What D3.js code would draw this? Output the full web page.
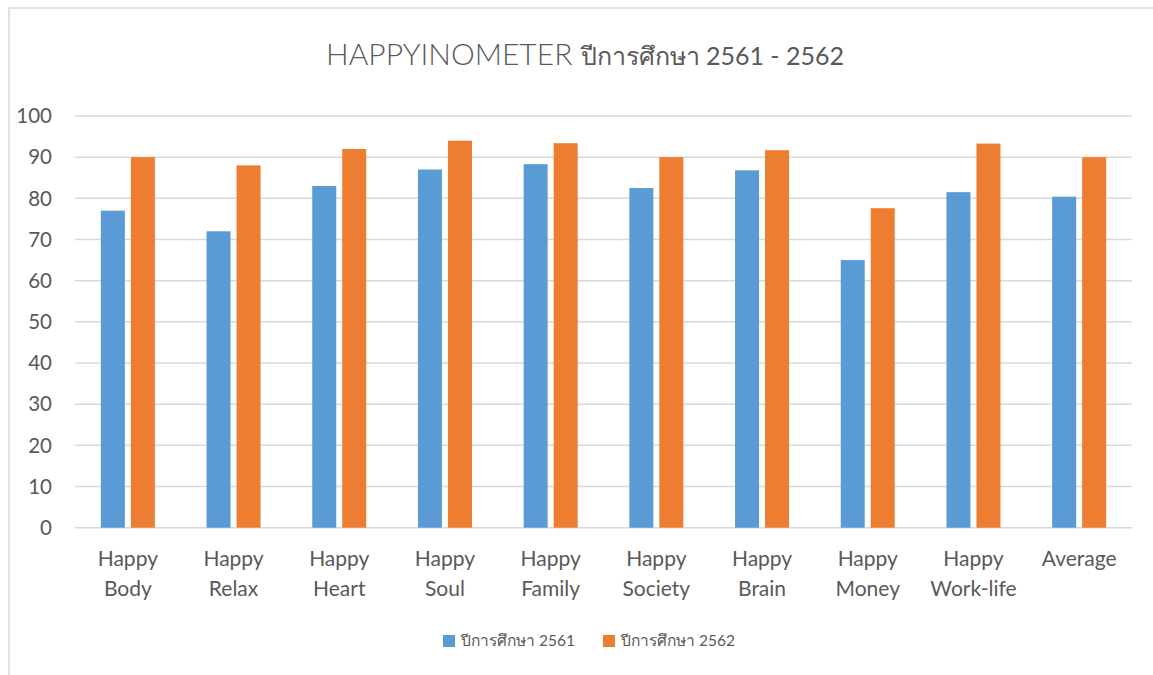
<!DOCTYPE html>
<html>
<head>
<meta charset="utf-8">
<script src="https://cdn.jsdelivr.net/npm/d3@7"></script>
<style>
  body { margin: 0; background: #fff; }
  text { font-family: Lato, "Open Sans", sans-serif; fill: #595959; }
</style>
</head>
<body>
<div id="chart"></div>
<script>
// Chart values
const categories = [
    ["Happy", "Body"], ["Happy", "Relax"], ["Happy", "Heart"], ["Happy", "Soul"],
    ["Happy", "Family"], ["Happy", "Society"], ["Happy", "Brain"], ["Happy", "Money"],
    ["Happy", "Work-life"], ["Average"]
];
const seriesNames = ["ปีการศึกษา 2561", "ปีการศึกษา 2562"];
const values2561 = [77, 72, 83, 87, 88.3, 82.5, 86.8, 65, 81.5, 80.4];
const values2562 = [90, 88, 92, 94, 93.4, 90, 91.7, 77.6, 93.3, 90];
const yTicks = [0, 10, 20, 30, 40, 50, 60, 70, 80, 90, 100];
const colors = ["#5B9BD5", "#ED7D31"];

const width = 1153, height = 675;
const margin = {top: 116, left: 75, right: 21, bottom: 148};

const svg = d3.select("#chart").append("svg")
    .attr("width", width)
    .attr("height", height);

// chart frame (only top and left edges are visible in the picture)
svg.append("rect")
    .attr("x", 9).attr("y", 8)
    .attr("width", width + 20).attr("height", height + 20)
    .attr("fill", "none")
    .attr("stroke", "#d9d9d9")
    .attr("stroke-width", 1.5);

const labels = categories.map(d => d.join(" "));

const x = d3.scaleBand()
    .domain(labels)
    .range([margin.left, width - margin.right]);

const yScale = d3.scaleLinear()
    .domain([0, 100])
    .range([height - margin.bottom + 0.7, margin.top]);

// gridlines
svg.append("g")
    .selectAll("line")
    .data(yTicks)
    .enter().append("line")
    .attr("x1", margin.left)
    .attr("x2", width - margin.right)
    .attr("y1", d => yScale(d))
    .attr("y2", d => yScale(d))
    .attr("stroke", "#d9d9d9")
    .attr("stroke-width", 1.5);

// y tick labels
svg.append("g")
    .selectAll("text")
    .data(yTicks)
    .enter().append("text")
    .attr("x", 52)
    .attr("y", d => yScale(d))
    .attr("dy", "0.35em")
    .attr("text-anchor", "end")
    .style("font-size", "20.5px")
    .text(d => d);

// bars
const barW = 24, gap = 6;
const seriesData = [values2561, values2562];
seriesData.forEach((vals, s) => {
    svg.append("g")
        .attr("fill", colors[s])
        .selectAll("rect")
        .data(vals)
        .enter().append("rect")
        .attr("x", (d, i) => x(labels[i]) + x.bandwidth() / 2 - barW - gap / 2 + s * (barW + gap))
        .attr("y", d => yScale(d))
        .attr("width", barW)
        .attr("height", d => yScale(0) - yScale(d));
});

// x category labels (two lines)
const xLabels = svg.append("g")
    .selectAll("text")
    .data(categories)
    .enter().append("text")
    .attr("text-anchor", "middle")
    .attr("x", (d, i) => x(labels[i]) + x.bandwidth() / 2)
    .attr("y", 566)
    .style("font-size", "21px");
xLabels.selectAll("tspan")
    .data(d => d)
    .enter().append("tspan")
    .attr("x", function() { return d3.select(this.parentNode).attr("x"); })
    .attr("dy", (d, i) => i === 0 ? 0 : 30)
    .text(d => d);

// title
const title = svg.append("text")
    .attr("x", 585)
    .attr("y", 65)
    .attr("text-anchor", "middle");
title.append("tspan").style("font-size", "30px").style("font-weight", 300).text("HAPPYINOMETER ");
title.append("tspan").style("font-size", "25px").style("font-weight", 400).text("ปีการศึกษา 2561 - 2562");

// legend
const legendX = [443, 603];
const legend = svg.append("g")
    .selectAll("g")
    .data(seriesNames)
    .enter().append("g")
    .attr("transform", (d, i) => `translate(${legendX[i]}, 635)`);
legend.append("rect")
    .attr("width", 12).attr("height", 12)
    .attr("fill", (d, i) => colors[i]);
legend.append("text")
    .attr("x", 18).attr("y", 6)
    .attr("dy", "0.35em")
    .style("font-size", "15.5px")
    .text(d => d);
</script>
</body>
</html>
